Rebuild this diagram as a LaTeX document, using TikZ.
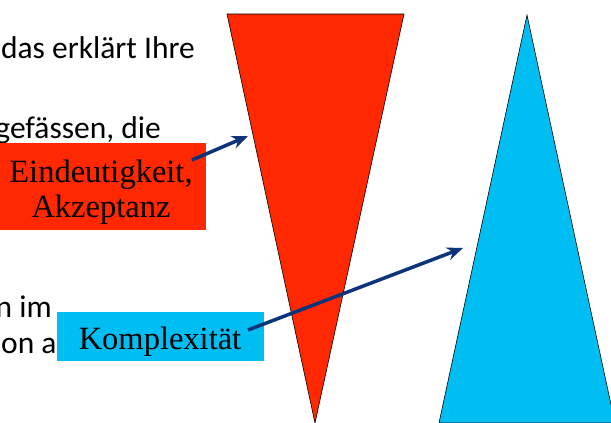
\documentclass[tikz,border=0pt]{standalone}
\usepackage{fontspec}
\setmainfont{Liberation Serif}
\newfontfamily\bodyfont{Carlito}
\usetikzlibrary{arrows.meta}
\definecolor{redfill}{RGB}{255,40,0}
\definecolor{bluefill}{RGB}{0,190,242}
\definecolor{navy}{RGB}{12,52,122}
\begin{document}
\begin{tikzpicture}[x=1pt,y=-1pt,
  bodytext/.style={font=\bodyfont\fontsize{31.5}{36}\selectfont, inner sep=0pt},
  boxshape/.style={inner sep=0pt, draw=none},
  labeltext/.style={inner sep=0pt, align=center, font=\fontsize{32.5}{35}\selectfont, text=black},
  pointer/.style={draw=navy, line width=3.5pt, -{Stealth[length=16pt,width=13pt]}},
  wedge/.style={draw=black, line width=0.6pt}]
\useasboundingbox (0,0) rectangle (611,423);
\clip (0,0) rectangle (611,423);
% background text (cut at the left edge)
\node[bodytext, anchor=base east] (t1) at (195,58) {das erklärt Ihre};
\node[bodytext, anchor=base east] (t2) at (161,138) {gefässen, die};
\node[bodytext, anchor=base east] (t3) at (52,317) {n im};
\node[bodytext, anchor=base west] (t4) at (1,353) {on ar};
% triangles
\filldraw[wedge, fill=redfill] (227,14) -- (404,14) -- (315,423) -- cycle;
\filldraw[wedge, fill=bluefill] (527,15) -- (615,423) -- (439,423) -- cycle;
% label boxes
\node[boxshape, fill=redfill, minimum width=206pt, minimum height=87pt] (rbox) at (103,186.5) {};
\node[labeltext] (rtext) at (101,192) {Eindeutigkeit,\\Akzeptanz};
\node[boxshape, fill=bluefill, minimum width=207pt, minimum height=49pt] (bbox) at (160.5,336.5) {};
\node[labeltext, anchor=base] (btext) at (160,349) {Komplexität};
% arrows
\coordinate (a1s) at (192,160);
\coordinate (a1e) at (248,136);
\coordinate (a2s) at (248,330);
\coordinate (a2e) at (463,248);
\draw[pointer] (a1s) -- (a1e);
\draw[pointer] (a2s) -- (a2e);
\end{tikzpicture}
\end{document}
